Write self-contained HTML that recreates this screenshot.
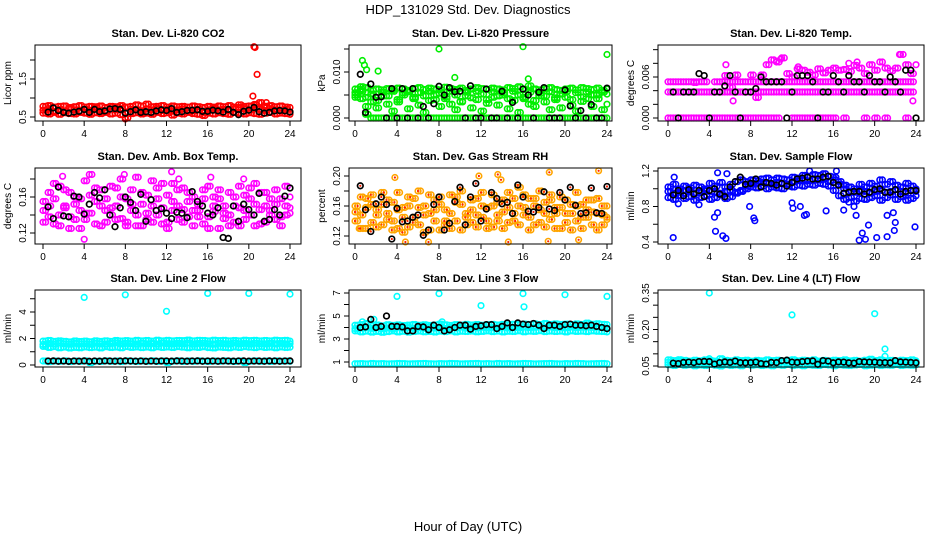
<!DOCTYPE html>
<html><head><meta charset="utf-8"><title>HDP_131029 Std. Dev. Diagnostics</title>
<style>
html,body{margin:0;padding:0;background:#fff;}
svg{display:block;font-family:"Liberation Sans",Arial,sans-serif;}
</style></head>
<body>
<svg id="chart" width="936" height="540" viewBox="0 0 936 540">
<text x="468" y="14" text-anchor="middle" font-size="13">HDP_131029  Std. Dev. Diagnostics</text>
<text x="468" y="531" text-anchor="middle" font-size="13">Hour of Day (UTC)</text>
</svg>
<script>
// ---- shared time axis (hours) ----
const hours=[0,0.5,1,1.5,2,2.5,3,3.5,4,4.5,5,5.5,6,6.5,7,7.5,8,8.5,9,9.5,10,10.5,11,11.5,12,12.5,13,13.5,14,14.5,15,15.5,16,16.5,17,17.5,18,18.5,19,19.5,20,20.5,21,21.5,22,22.5,23,23.5,24];
const xTicks=[0,4,8,12,16,20,24];

// ---- P1 CO2 ----
const co2A=[0.68,0.72,0.65,0.70,0.66,0.71,0.69,0.64,0.70,0.67,0.73,0.68,0.66,0.71,0.69,0.72,0.62,0.70,0.68,0.66,0.71,0.69,0.72,0.67,0.70,0.65,0.69,0.71,0.68,0.66,0.70,0.62,0.69,0.72,0.68,0.70,0.66,0.71,0.75,0.72,0.68,0.76,0.70,0.67,0.72,0.69,0.66,0.70,0.64];
const co2B=[0.60,0.58,0.62,0.57,0.61,0.59,0.58,0.62,0.60,0.57,0.61,0.59,0.62,0.58,0.60,0.56,0.48,0.59,0.61,0.58,0.60,0.57,0.62,0.59,0.61,0.55,0.60,0.58,0.62,0.59,0.57,0.54,0.60,0.58,0.61,0.59,0.57,0.62,0.60,0.58,0.61,0.59,0.57,0.60,0.62,0.58,0.60,0.59,0.57];
const co2C=[0.78,0.80,0.76,0.78,0.79,0.75,0.77,0.80,0.76,0.78,0.77,0.79,0.75,0.78,0.77,0.80,0.76,0.78,0.82,0.79,0.84,0.77,0.78,0.80,0.76,0.79,0.77,0.78,0.76,0.79,0.77,0.75,0.78,0.76,0.79,0.77,0.80,0.76,0.82,0.78,0.79,0.83,0.88,0.78,0.80,0.77,0.79,0.76,0.75];
const co2K=[null,0.63,0.74,0.67,0.62,0.60,0.63,0.65,0.70,0.62,0.70,0.64,0.66,0.71,0.72,0.70,0.60,0.64,0.69,0.62,0.64,0.62,0.66,0.69,0.67,0.72,0.62,0.64,0.67,0.68,0.69,0.65,0.65,0.68,0.66,0.63,0.70,0.62,0.56,0.65,0.68,0.75,0.64,0.60,0.62,0.66,0.67,0.66,0.63];
const co2OutH=[20.5,20.6,20.8,20.4,21.7,20.7,8.0];
const co2OutV=[2.35,2.33,1.62,1.05,0.88,0.82,0.45];

// ---- P2 Pressure ----
const prA=[0.0045,0.0062,0.0008,0,0,0,0,0,0,0,0,0,0,0,0,0,0,0,0,0,0,0,0,0,0,0,0,0,0,0,0,0,0,0,0,0,0,0,0,0,0,0,0,0,0,0,0,0,0];
const prB=[0.0063,0.0068,0.0066,0.0060,0.0063,0.0061,0.0064,0.0062,0.0065,0.0063,0.0060,0.0064,0.0066,0.0062,0.0065,0.0063,0.0061,0.0067,0.0064,0.0062,0.0065,0.0060,0.0063,0.0066,0.0064,0.0062,0.0065,0.0063,0.0061,0.0066,0.0064,0.0068,0.0062,0.0070,0.0063,0.0061,0.0064,0.0066,0.0062,0.0060,0.0063,0.0065,0.0061,0.0066,0.0064,0.0062,0.0065,0.0060,0.0063];
const prC=[0.0050,0.0042,0.0025,0.0035,0.0022,0.0048,0.0030,0.0015,0.0040,0.0055,0.0020,0.0045,0.0028,0.0012,0.0038,0.0050,0.0025,0.0042,0.0030,0.0018,0.0035,0.0048,0.0022,0.0040,0.0015,0.0032,0.0045,0.0028,0.0050,0.0020,0.0038,0.0012,0.0042,0.0030,0.0025,0.0048,0.0035,0.0018,0.0040,0.0022,0.0045,0.0028,0.0015,0.0036,0.0042,0.0025,0.0050,0.0018,0.0030];
const prD=[0.0055,0.0058,0.0045,0.0052,0.0038,0.0056,0.0048,0.0058,0.0035,0.0050,0.0057,0.0042,0.0055,0.0048,0.0058,0.0040,0.0054,0.0046,0.0058,0.0050,0.0036,0.0056,0.0044,0.0058,0.0052,0.0040,0.0057,0.0048,0.0055,0.0042,0.0058,0.0050,0.0045,0.0056,0.0038,0.0054,0.0048,0.0057,0.0044,0.0052,0.0058,0.0040,0.0055,0.0046,0.0057,0.0050,0.0042,0.0056,0.0052];
const prK=[null,0.0095,0.0012,0.0074,0.0045,0.0046,0,0.0064,0,0.0064,0,0.0064,0,0.0025,0,0.0031,0.0069,0.0050,0.0066,0.0057,0.0058,0,0.0070,0,0,0.0063,0,0,0.0058,0,0.0034,0,0.0063,0.0050,0,0.0056,0.0066,0,0,0,0.0061,0.0026,0,0.0016,0,0.0029,0,0,0.0065];
const prOutH=[8,16,24,0.7,0.9,1.1,2.2,16.5,9.5];
const prOutV=[0.0150,0.0155,0.0138,0.0125,0.0115,0.0105,0.0102,0.0085,0.0088];

// ---- P3 Li-820 Temp ----
const ltA=[0,0,0,0,0,0,0,0,0,0,0,0,0,0,0,0,0,0,0,0,0,0,null,null,0,0,0,0,0,0,0,0,0,null,0,null,null,null,0,null,0,null,0,null,null,null,0,null,null];
const ltB=[0.0038,0.0038,0.0038,0.0038,0.0038,0.0038,0.0038,0.0038,0.0038,0.0038,0.0038,0.0038,0.0038,0.0038,0.0038,0.0038,0.0038,0.0038,0.0038,0.0038,0.0038,0.0038,0.0038,0.0038,0.0038,0.0038,0.0038,0.0038,0.0038,0.0038,0.0038,0.0038,0.0038,0.0038,0.0038,0.0038,0.0038,0.0038,0.0038,0.0038,0.0038,0.0038,0.0038,0.0038,0.0038,0.0038,0.0038,0.0038,null];
const ltC=[0.0053,0.0053,0.0053,0.0053,0.0053,0.0053,0.0053,0.0053,null,0.0053,0.0053,0.0053,0.0053,0.0053,0.0053,0.0053,0.0053,0.0053,0.0053,0.0053,0.0053,0.0053,0.0053,0.0053,0.0053,0.0053,0.0053,0.0053,0.0053,0.0053,0.0053,0.0053,0.0053,0.0053,0.0053,0.0053,0.0053,0.0053,0.0053,0.0053,0.0053,0.0053,0.0053,0.0053,0.0053,0.0053,0.0053,0.0053,null];
const ltD=[null,null,null,null,null,0.0052,null,null,null,null,null,0.0062,0.0045,0.0063,null,null,0.0063,0.0030,0.0063,0.0078,0.0085,0.0082,0.0088,0.0065,0.0060,0.0072,0.0070,0.0067,0.0063,0.0072,0.0066,0.0070,0.0073,0.0070,0.0071,0.0068,0.0077,0.0073,0.0065,0.0078,0.0070,0.0082,0.0073,0.0069,0.0073,0.0093,0.0078,0.0065,0.0078];
const ltK=[null,0.0038,0.0000,0.0038,0.0038,0.0038,0.0065,0.0062,0.0000,0.0038,0.0038,0.0047,0.0062,0.0038,0.0000,0.0038,0.0038,0.0043,0.0060,0.0053,0.0053,0.0053,0.0053,0.0000,0.0038,0.0062,0.0062,0.0062,0.0053,0.0000,0.0038,0.0038,0.0062,0.0053,0.0038,0.0062,0.0053,0.0053,0.0038,0.0062,0.0053,0.0053,0.0038,0.0060,0.0053,0.0038,0.0070,0.0070,0.0000];
const ltOutH=[5.6,6.3,10.5,10.9,12.6,17.5,18.3,22.4,23.7];
const ltOutV=[0.0078,0.0025,0.0083,0.0086,0.0075,0.0080,0.0082,0.0093,0.0025];

// ---- P4 Amb Box Temp ----
const abA=[0.145,0.165,0.130,0.172,0.150,0.138,0.160,0.125,0.178,0.142,0.155,0.168,0.132,0.148,0.170,0.136,0.158,0.145,0.182,0.128,0.162,0.150,0.140,0.175,0.132,0.155,0.168,0.146,0.138,0.160,0.152,0.130,0.172,0.144,0.158,0.136,0.165,0.150,0.128,0.162,0.140,0.175,0.146,0.132,0.158,0.168,0.138,0.150,0.160];
const abB=[0.155,0.138,0.175,0.128,0.148,0.165,0.135,0.158,0.142,0.185,0.130,0.150,0.145,0.172,0.135,0.160,0.128,0.168,0.140,0.152,0.135,0.178,0.158,0.130,0.162,0.145,0.135,0.170,0.155,0.128,0.145,0.168,0.138,0.160,0.125,0.150,0.140,0.132,0.172,0.145,0.158,0.128,0.165,0.150,0.140,0.135,0.158,0.172,0.142];
const abC=[0.132,0.150,0.158,0.140,0.168,0.125,0.152,0.145,0.135,0.162,0.170,0.128,0.158,0.140,0.150,0.180,0.132,0.152,0.128,0.165,0.142,0.132,0.170,0.148,0.125,0.175,0.150,0.132,0.165,0.145,0.138,0.158,0.125,0.150,0.168,0.142,0.128,0.160,0.148,0.135,0.170,0.152,0.130,0.165,0.145,0.152,0.128,0.140,0.148];
const abK=[null,0.149,0.136,0.171,0.139,0.138,0.161,0.160,0.141,0.152,0.165,0.159,0.168,0.140,0.127,0.148,0.160,0.154,0.145,0.163,0.133,0.157,0.145,0.147,0.142,0.136,0.143,0.142,0.137,0.166,0.155,0.150,0.142,0.140,0.148,0.115,0.114,0.150,0.133,0.152,0.146,0.140,0.164,0.133,0.135,0.146,0.140,0.161,0.170];
const abOutH=[0.7,3.3,4.0,6.5,9.6,12.4,12.5,19.5,13.2,16.3,7.9,1.9];
const abOutV=[0.105,0.193,0.113,0.198,0.192,0.192,0.188,0.180,0.180,0.182,0.185,0.183];

// ---- P5 Gas Stream RH ----
const rhA=[0.160,0.148,0.170,0.138,0.155,0.178,0.142,0.165,0.130,0.158,0.172,0.145,0.135,0.160,0.150,0.168,0.128,0.155,0.175,0.140,0.162,0.150,0.138,0.170,0.145,0.158,0.132,0.165,0.152,0.178,0.140,0.160,0.148,0.170,0.135,0.155,0.165,0.142,0.158,0.130,0.168,0.150,0.140,0.162,0.155,0.135,0.170,0.148,0.160];
const rhB=[0.140,0.172,0.130,0.162,0.148,0.135,0.168,0.128,0.155,0.145,0.132,0.170,0.158,0.125,0.175,0.140,0.162,0.135,0.150,0.172,0.128,0.145,0.168,0.132,0.178,0.140,0.160,0.148,0.130,0.158,0.170,0.135,0.175,0.145,0.160,0.180,0.132,0.168,0.150,0.172,0.138,0.162,0.178,0.130,0.145,0.168,0.150,0.135,0.142];
const rhC=[0.152,0.130,0.158,0.175,0.132,0.162,0.150,0.140,0.178,0.125,0.160,0.138,0.180,0.148,0.128,0.155,0.172,0.140,0.130,0.165,0.180,0.135,0.155,0.148,0.160,0.130,0.175,0.140,0.168,0.138,0.150,0.185,0.158,0.128,0.170,0.138,0.150,0.175,0.130,0.158,0.150,0.128,0.160,0.145,0.168,0.152,0.128,0.160,0.145];
const rhK=[null,0.187,0.155,0.126,0.163,0.172,0.162,0.116,0.157,0.139,0.140,0.145,0.148,0.121,0.128,0.162,0.172,0.128,0.137,0.166,0.185,0.135,0.172,0.190,0.140,0.156,0.178,0.170,0.163,0.165,0.150,0.188,0.172,0.153,0.152,0.158,0.179,0.156,0.154,0.178,0.168,0.185,0.161,0.150,0.151,0.184,0.151,0.150,0.186];
const rhOutH=[3.8,4.8,11.8,13.6,14.6,18.4,18.5,23.2,21.3,0.4,7.0,13.9];
const rhOutV=[0.198,0.112,0.200,0.202,0.112,0.113,0.205,0.207,0.115,0.130,0.112,0.195];

// ---- P6 Sample Flow ----
const sfA=[0.97,0.95,0.96,0.98,0.97,0.95,0.96,0.98,0.97,0.96,0.95,0.97,0.98,0.96,0.97,1.03,1.05,1.06,1.07,1.06,1.05,1.07,1.06,1.05,1.08,1.09,1.10,1.09,1.11,1.10,1.12,1.08,1.10,1.05,1.00,0.97,0.96,0.98,0.97,0.95,0.97,0.98,0.96,0.97,0.99,0.97,0.95,0.98,0.97];
const sfB=[0.90,0.88,0.92,0.89,0.91,0.87,0.90,0.92,0.88,0.90,0.93,0.89,0.91,0.95,0.98,1.00,1.02,1.01,1.03,1.00,1.02,1.01,1.00,1.03,1.02,1.04,1.03,1.05,1.04,1.06,1.05,1.03,0.98,0.92,0.88,0.90,0.86,0.89,0.88,0.90,0.92,0.87,0.90,0.93,0.88,0.91,0.87,0.89,0.92];
const sfC=[1.02,1.05,1.00,1.03,1.01,1.04,1.02,1.00,1.06,1.03,1.07,1.02,1.05,1.08,1.10,1.08,1.10,1.09,1.11,1.12,1.10,1.12,1.11,1.10,1.13,1.12,1.15,1.14,1.16,1.15,1.17,1.14,1.13,1.08,1.04,1.02,1.00,1.05,1.02,1.06,1.03,1.10,1.05,1.08,1.04,1.02,1.06,1.03,1.00];
const sfK=[null,0.93,0.98,0.92,0.99,0.94,0.98,0.91,0.98,1.00,0.94,0.91,1.02,1.08,1.13,1.05,1.06,1.11,1.02,1.07,1.06,1.04,1.06,1.03,1.07,1.11,1.12,1.13,1.11,1.11,1.13,1.14,1.07,1.04,0.95,0.96,0.97,0.97,0.94,0.96,0.99,1.00,0.96,0.96,0.99,0.94,0.97,0.98,0.98];
const sfOutH=[0.5,4.6,4.8,4.5,5.3,5.6,7.9,8.3,8.4,12,12.1,12.8,13.2,13.4,15.3,17,18.5,18.8,19.1,19.4,20.2,21.2,21.2,21.8,21.9,22,23.9,18.2,0.6,4.8,5.7,16.3,13.7,1.0,3.0,17.5,18.0];
const sfOutV=[0.45,0.52,0.73,0.68,0.47,0.44,0.80,0.67,0.64,0.84,0.78,0.80,0.70,0.71,0.75,0.76,0.42,0.50,0.43,0.59,0.45,0.70,0.46,0.73,0.53,0.62,0.57,0.70,1.13,1.18,1.17,1.20,1.20,0.83,0.82,0.85,0.80];

// ---- P7 Line 2 Flow ----
const l2A=[1.55,1.62,1.58,1.65,1.60,1.57,1.63,1.59,1.61,1.56,1.64,1.60,1.58,1.62,1.66,1.59,1.63,1.61,1.57,1.64,1.60,1.62,1.58,1.65,1.61,1.59,1.63,1.60,1.66,1.58,1.62,1.64,1.60,1.57,1.63,1.61,1.59,1.65,1.60,1.62,1.58,1.64,1.61,1.59,1.63,1.60,1.62,1.58,1.61];
const l2B=[1.40,1.32,1.38,1.30,1.35,1.28,1.33,1.30,1.36,1.31,1.34,1.29,1.37,1.32,1.35,1.30,1.38,1.33,1.36,1.31,1.35,1.30,1.37,1.33,1.36,1.32,1.38,1.34,1.30,1.36,1.33,1.37,1.31,1.29,1.35,1.33,1.30,1.36,1.32,1.38,1.34,1.31,1.37,1.33,1.35,1.30,1.36,1.32,1.34];
const l2C=[1.80,1.85,1.78,1.82,1.79,1.75,1.81,1.77,1.80,1.76,1.82,1.78,1.83,1.79,1.85,1.81,1.84,1.80,1.86,1.82,1.85,1.80,1.87,1.83,1.86,1.82,1.85,1.84,1.88,1.83,1.86,1.85,1.82,1.87,1.84,1.86,1.82,1.85,1.83,1.87,1.84,1.86,1.82,1.85,1.83,1.87,1.84,1.86,1.80];
const l2D=[0.30,0.25,0.30,0.28,0.32,0.26,0.30,0.28,0.31,0.18,0.29,0.27,0.31,0.28,0.30,0.26,0.31,0.29,0.27,0.30,0.28,0.31,0.27,0.30,0.18,0.29,0.31,0.27,0.30,0.28,0.31,0.29,0.27,0.30,0.28,0.31,0.29,0.27,0.30,0.18,0.29,0.31,0.28,0.30,0.27,0.31,0.29,0.30,0.28];
const l2K=[null,0.30,0.31,0.29,0.30,0.28,0.30,0.29,0.31,0.28,0.30,0.29,0.31,0.30,0.29,0.30,0.31,0.30,0.29,0.30,0.28,0.30,0.29,0.30,0.30,0.29,0.31,0.30,0.29,0.30,0.31,0.29,0.30,0.30,0.29,0.31,0.30,0.29,0.30,0.31,0.29,0.30,0.30,0.29,0.31,0.30,0.29,0.30,0.31];
const l2OutH=[4,8,12,16,20,24];
const l2OutV=[5.1,5.3,4.05,5.4,5.4,5.35];

// ---- P8 Line 3 Flow ----
const l3A=[3.90,3.95,4.00,3.92,3.98,3.88,3.96,3.90,4.02,3.94,3.99,3.91,3.97,3.93,4.01,3.95,3.98,3.92,4.00,3.96,4.03,3.94,3.99,3.97,4.02,3.95,4.00,3.98,4.04,3.96,4.01,3.97,4.05,3.99,4.02,4.06,4.00,4.03,3.98,4.01,3.97,4.03,3.99,4.02,4.05,4.00,4.03,3.98,3.96];
const l3B=[3.70,3.62,3.68,3.60,3.66,3.58,3.64,3.70,3.62,3.67,3.60,3.65,3.69,3.63,3.66,3.61,3.68,3.64,3.70,3.62,3.67,3.65,3.69,3.63,3.66,3.70,3.64,3.68,3.62,3.67,3.65,3.70,3.63,3.68,3.66,3.71,3.64,3.69,3.65,3.68,3.62,3.70,3.66,3.68,3.64,3.70,3.67,3.65,3.62];
const l3C=[4.20,4.25,4.35,4.18,4.22,4.15,4.24,4.19,4.23,4.17,4.21,4.26,4.20,4.24,4.18,4.22,4.30,4.23,4.19,4.25,4.21,4.27,4.22,4.26,4.20,4.24,4.28,4.22,4.27,4.23,4.29,4.25,4.30,4.27,4.31,4.26,4.35,4.28,4.32,4.27,4.30,4.26,4.31,4.28,4.38,4.29,4.33,4.28,4.25];
const l3D=[0.85,0.86,0.84,0.87,0.85,0.86,0.84,0.85,0.87,0.86,0.84,0.85,0.86,0.87,0.85,0.84,0.86,0.85,0.87,0.86,0.84,0.85,0.86,0.87,0.85,0.86,0.84,0.87,0.85,0.86,0.84,0.85,0.87,0.86,0.84,0.85,0.86,0.87,0.85,0.84,0.86,0.85,0.87,0.86,0.84,0.85,0.86,0.87,0.85];
const l3K=[null,4.00,4.05,4.70,4.00,4.10,5.00,4.10,4.10,4.05,3.70,3.70,4.10,4.05,3.80,4.20,4.00,3.70,3.80,4.00,4.20,4.20,3.85,4.10,4.15,4.25,4.25,3.90,4.10,4.40,4.00,4.40,4.30,4.25,4.35,4.20,3.90,4.20,4.20,4.10,4.25,4.30,4.20,4.20,4.15,4.20,4.10,4.00,3.90];
const l3OutH=[4,8,12,16,16.1,20,24,1.8,0.7,8.3];
const l3OutV=[6.7,6.95,5.9,6.95,5.8,6.85,6.7,4.7,4.5,4.5];

// ---- P9 Line 4 (LT) Flow ----
const l4A=[0.065,0.060,0.068,0.062,0.066,0.059,0.064,0.061,0.067,0.063,0.060,0.066,0.062,0.065,0.059,0.064,0.061,0.066,0.063,0.060,0.065,0.062,0.067,0.061,0.064,0.059,0.066,0.063,0.061,0.065,0.062,0.067,0.060,0.064,0.061,0.066,0.063,0.060,0.065,0.062,0.064,0.061,0.066,0.062,0.065,0.060,0.064,0.062,0.063];
const l4B=[0.055,0.052,0.056,0.053,0.055,0.051,0.054,0.052,0.056,0.053,0.050,0.055,0.052,0.054,0.051,0.056,0.053,0.055,0.052,0.054,0.051,0.055,0.053,0.056,0.052,0.054,0.051,0.055,0.053,0.052,0.056,0.054,0.051,0.055,0.053,0.052,0.054,0.056,0.051,0.053,0.055,0.052,0.054,0.053,0.056,0.052,0.054,0.053,0.055];
const l4C=[0.075,0.072,0.076,0.073,0.070,0.074,0.071,0.075,0.072,0.070,0.080,0.073,0.071,0.075,0.072,0.074,0.070,0.073,0.071,0.075,0.072,0.074,0.070,0.073,0.076,0.071,0.074,0.072,0.075,0.070,0.073,0.071,0.074,0.072,0.075,0.071,0.073,0.070,0.074,0.078,0.072,0.075,0.071,0.073,0.070,0.074,0.072,0.075,0.071];
const l4K=[null,0.062,0.060,0.065,0.066,0.064,0.068,0.069,0.068,0.058,0.064,0.067,0.065,0.070,0.064,0.063,0.064,0.066,0.060,0.058,0.065,0.064,0.072,0.074,0.066,0.065,0.068,0.070,0.071,0.057,0.072,0.070,0.063,0.067,0.066,0.063,0.062,0.068,0.067,0.066,0.066,0.064,0.064,0.063,0.072,0.067,0.066,0.065,0.063];
const l4OutH=[4,12,20,21,4,21];
const l4OutV=[0.35,0.26,0.265,0.12,0.08,0.09];

// ---- layout (not data) ----
const cols=[{x0:35,x1:301,a:43,b:290},{x0:349,x1:612,a:355,b:607},{x0:658,x1:924,a:668,b:916}];
const rows=[{y0:45,y1:121},{y0:168,y1:244},{y0:290,y1:367}];
const panels=[
 {name:'co2',title:'Stan. Dev. Li-820 CO2',ylab:'Licor ppm',c:0,r:0,cal:[0.5,117,1.5,79],ticks:[0.5,1,1.5,2],labs:['0.5','','1.5',''],col:'#ff0000',series:[co2A,co2B,co2C],k:co2K,oh:co2OutH,ov:co2OutV},
 {name:'pressure',title:'Stan. Dev. Li-820 Pressure',ylab:'kPa',c:1,r:0,cal:[0,118,0.01,72],ticks:[0,0.005,0.01,0.015],labs:['0.000','','0.010',''],col:'#00ee00',series:[prA,prB,prC,prD],k:prK,oh:prOutH,ov:prOutV},
 {name:'li820-temp',title:'Stan. Dev. Li-820 Temp.',ylab:'degrees C',c:2,r:0,cal:[0,118,0.006,77],ticks:[0,0.002,0.004,0.006,0.008,0.010],labs:['0.000','','','0.006','',''],col:'#ff00ff',series:[ltA,ltB,ltC,ltD],k:ltK,oh:ltOutH,ov:ltOutV},
 {name:'amb-box-temp',title:'Stan. Dev. Amb. Box Temp.',ylab:'degrees C',c:0,r:1,cal:[0.12,233,0.16,197],ticks:[0.12,0.14,0.16,0.18],labs:['0.12','','0.16',''],col:'#ff00ff',series:[abA,abB,abC],k:abK,oh:abOutH,ov:abOutV},
 {name:'gas-stream-rh',title:'Stan. Dev. Gas Stream RH',ylab:'percent',c:1,r:1,cal:[0.12,236,0.20,176],ticks:[0.12,0.14,0.16,0.18,0.20],labs:['0.12','','0.16','','0.20'],col:'#ffa500',dot:'#ff2200',series:[rhA,rhB,rhC],k:rhK,oh:rhOutH,ov:rhOutV},
 {name:'sample-flow',title:'Stan. Dev. Sample Flow',ylab:'ml/min',c:2,r:1,cal:[0.4,242,1.2,171],ticks:[0.4,0.6,0.8,1.0,1.2],labs:['0.4','','0.8','','1.2'],col:'#0000ff',series:[sfA,sfB,sfC],k:sfK,oh:sfOutH,ov:sfOutV},
 {name:'line2-flow',title:'Stan. Dev. Line 2 Flow',ylab:'ml/min',c:0,r:2,cal:[0,365,4,312],ticks:[0,1,2,3,4,5],labs:['0','','2','','4',''],col:'#00ffff',series:[l2A,l2B,l2C,l2D],k:l2K,oh:l2OutH,ov:l2OutV},
 {name:'line3-flow',title:'Stan. Dev. Line 3 Flow',ylab:'ml/min',c:1,r:2,cal:[1,362,7,293],ticks:[1,2,3,4,5,6,7],labs:['1','','3','','5','','7'],col:'#00ffff',series:[l3A,l3B,l3C,l3D],k:l3K,oh:l3OutH,ov:l3OutV},
 {name:'line4-flow',title:'Stan. Dev. Line 4 (LT) Flow',ylab:'ml/min',c:2,r:2,cal:[0.05,366,0.35,293],ticks:[0.05,0.10,0.15,0.20,0.25,0.30,0.35],labs:['0.05','','','0.20','','','0.35'],col:'#00ffff',series:[l4A,l4B,l4C],k:l4K,oh:l4OutH,ov:l4OutV}
];

const NS='http://www.w3.org/2000/svg';
const svg=document.getElementById('chart');
function mk(tag,attrs,parent){const e=document.createElementNS(NS,tag);for(const k in attrs)e.setAttribute(k,attrs[k]);parent.appendChild(e);return e;}

panels.forEach(p=>{
  const C=cols[p.c],R=rows[p.r];
  const xs=h=>C.a+(h/24)*(C.b-C.a);
  const ys=v=>p.cal[1]+(v-p.cal[0])*(p.cal[3]-p.cal[1])/(p.cal[2]-p.cal[0]);
  const g=mk('g',{},svg);
  
  
  const t=mk('text',{x:(C.x0+C.x1)/2,y:R.y0-8,'text-anchor':'middle','font-size':'11','font-weight':'bold'},g);
  t.textContent=p.title;
  
  
  const pts=mk('g',{fill:'none'},g);
  
  
  function dot(h,v,color,sw){
    if(v===null||v===undefined)return;
    const y=ys(v); if(y<R.y0+1||y>R.y1-1)return;
    const c=mk('circle',{cx:xs(h).toFixed(1),cy:y.toFixed(1),r:'2.8',stroke:color,'stroke-width':sw},pts);
    
    
    if(p.dot){mk('circle',{cx:xs(h).toFixed(1),cy:y.toFixed(1),r:'1.1',fill:p.dot,stroke:'none'},pts);}
  }
  const n=p.series.length;
  p.series.forEach((arr,si)=>{
    arr.forEach((v,i)=>{dot(hours[i],v,p.col,'1.6');});
    const other=p.series[(si+1)%n];
    other.forEach((v,i)=>{if(i<48)dot(hours[i]+0.25,v,p.col,'1.6');});
  });
  p.oh.forEach((h,i)=>dot(h,p.ov[i],p.col,'1.6'));
  p.k.forEach((v,i)=>dot(hours[i],v,'#000','1.7'));
  const box=mk('rect',{x:C.x0,y:R.y0,width:C.x1-C.x0,height:R.y1-R.y0,fill:'none',stroke:'#000','stroke-width':'1'},g);
  
  
  const xa=mk('g',{},g);
  
  
  xTicks.forEach(h=>{
    const x=xs(h);
    mk('line',{x1:x,x2:x,y1:R.y1,y2:R.y1+5,stroke:'#000'},xa);
    const tl=mk('text',{x:x,y:R.y1+16,'text-anchor':'middle','font-size':'10'},xa);
    tl.textContent=String(h);
    
    
  });
  const ya=mk('g',{},g);
  
  
  p.ticks.forEach((v,i)=>{
    const y=ys(v);
    mk('line',{x1:C.x0-5,x2:C.x0,y1:y,y2:y,stroke:'#000'},ya);
    if(p.labs[i]){
      const lx=C.x0-9;
      const tl=mk('text',{x:lx,y:y,'text-anchor':'middle','font-size':'10',transform:`rotate(-90 ${lx} ${y})`},ya);
      tl.textContent=p.labs[i];
      
      
    }
  });
  const yl=C.x0-24, ym=(R.y0+R.y1)/2;
  const yt=mk('text',{x:yl,y:ym,'text-anchor':'middle','font-size':'10',transform:`rotate(-90 ${yl} ${ym})`},ya);
  yt.textContent=p.ylab;
  
  
});
</script>
</body></html>
